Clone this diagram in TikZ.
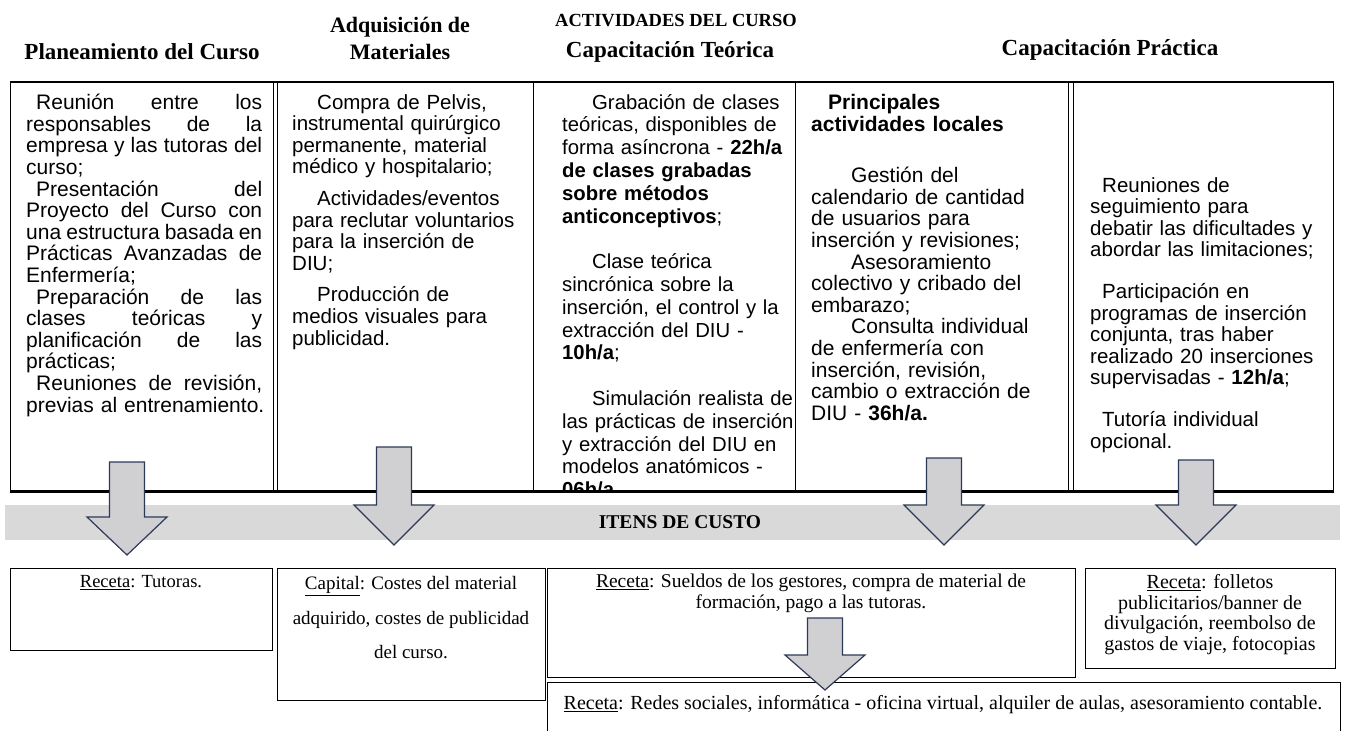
\documentclass[tikz,border=0pt]{standalone}
\usepackage{fontspec}
\setmainfont{Liberation Serif}
\newfontfamily\arialf{Liberation Sans}
\definecolor{bandgray}{RGB}{217,217,217}
\definecolor{arrowfill}{RGB}{208,207,210}
\definecolor{arrowline}{RGB}{44,58,88}
\newcommand\jl[1]{\makebox[236pt][s]{#1}}
\newcommand\dnarrow[5]{%
  \draw[blockarrow] ({#2-17.5},#3) -- ({#2+17.5},#3) -- ({#2+17.5},#4) -- ({#2+40},#4)
    -- (#2,#5) coordinate (#1) -- ({#2-40},#4) -- ({#2-17.5},#4) -- cycle;}
\begin{document}
\begin{tikzpicture}[x=1pt,y=-1pt,
  topbox/.style={draw=black, line width=1.3pt, anchor=north west, inner sep=0pt},
  costbox/.style={draw=black, line width=1.3pt, anchor=north west, inner sep=0pt},
  hdr/.style={font=\bfseries\fontsize{23}{27}\selectfont, align=center, inner sep=0pt},
  boxtext/.style={anchor=north west, inner sep=0pt, align=left, text width=270pt, font=\arialf\fontsize{20.5}{21.6}\selectfont},
  costtxt/.style={font=\fontsize{19}{21}\selectfont, align=center, inner sep=0pt},
  blockarrow/.style={fill=arrowfill, draw=arrowline, line width=1.2pt, line join=miter},
  band/.style={fill=bandgray, draw=none, anchor=north west, inner sep=0pt}]
\useasboundingbox (0,0) rectangle (1353,731);
\clip (0,0) rectangle (1353,731);

% headers
\node[hdr] (h1) at (142,52) {Planeamiento del Curso};
\node[hdr, font=\bfseries\fontsize{22}{27}\selectfont] (h2) at (400,38) {Adquisición de\\Materiales};
\node[hdr, font=\bfseries\fontsize{18.5}{22}\selectfont] (h3a) at (676,21) {ACTIVIDADES DEL CURSO};
\node[hdr] (h3b) at (670,52) {Capacitación Teórica};
\node[hdr] (h4) at (1110,50) {Capacitación Práctica};

% top boxes
\node[topbox, minimum width=263pt, minimum height=408pt] (box1) at (10,82) {};
\node[topbox, minimum width=256pt, minimum height=408pt] (box2) at (277,82) {};
\node[topbox, minimum width=262pt, minimum height=408pt] (box3) at (533,82) {};
\node[topbox, minimum width=273pt, minimum height=408pt] (box4) at (795,82) {};
\node[topbox, minimum width=260pt, minimum height=408pt] (box5) at (1073,82) {};
\draw[line width=2.4pt] (box1.north west) -- (box5.north east);
\draw[line width=2.4pt] (box1.south west) -- (box5.south east);

\node[boxtext, font=\arialf\fontsize{21}{21.6}\selectfont] (t1) at (26,94) {%
\jl{\hspace*{10pt}Reunión\hfill entre\hfill los}\\
\jl{responsables\hfill de\hfill la}\\
\jl{empresa\hfill y\hfill las\hfill tutoras\hfill del}\\
curso;\\
\jl{\hspace*{10pt}Presentación\hfill del}\\
\jl{Proyecto\hfill del\hfill Curso\hfill con}\\
\jl{una\hfill estructura\hfill basada\hfill en}\\
\jl{Prácticas\hfill Avanzadas\hfill de}\\
Enfermería;\\
\jl{\hspace*{10pt}Preparación\hfill de\hfill las}\\
\jl{clases\hfill teóricas\hfill y}\\
\jl{planificación\hfill de\hfill las}\\
prácticas;\\
\jl{\hspace*{10pt}Reuniones\hfill de\hfill revisión,}\\
previas al entrenamiento.};

\node[boxtext] (t2) at (292,94) {%
\hspace*{25pt}Compra de Pelvis,\\
instrumental quirúrgico\\
permanente, material\\
médico y hospitalario;\\[10pt]
\hspace*{25pt}Actividades/eventos\\
para reclutar voluntarios\\
para la inserción de\\
DIU;\\[10pt]
\hspace*{25pt}Producción de\\
medios visuales para\\
publicidad.};

\begin{scope}
\clip (box3.north west) rectangle (box3.south east);
\node[boxtext, font=\arialf\fontsize{20.3}{22.8}\selectfont] (t3) at (562,94) {%
\hspace*{30pt}Grabación de clases\\
teóricas, disponibles de\\
forma asíncrona - \textbf{22h/a}\\
\textbf{de clases grabadas}\\
\textbf{sobre métodos}\\
\textbf{anticonceptivos};\\[22.8pt]
\hspace*{30pt}Clase teórica\\
sincrónica sobre la\\
inserción, el control y la\\
extracción del DIU -\\
\textbf{10h/a};\\[22.8pt]
\hspace*{30pt}Simulación realista de\\
las prácticas de inserción\\
y extracción del DIU en\\
modelos anatómicos -\\
\textbf{06h/a}};
\end{scope}

\node[boxtext, font=\arialf\fontsize{21}{21.6}\selectfont] (t4) at (811,94) {%
\hspace*{17pt}\textbf{Principales}\\
\textbf{actividades locales}\\[30pt]
\hspace*{40pt}Gestión del\\
calendario de cantidad\\
de usuarios para\\
inserción y revisiones;\\
\hspace*{40pt}Asesoramiento\\
colectivo y cribado del\\
embarazo;\\
\hspace*{40pt}Consulta individual\\
de enfermería con\\
inserción, revisión,\\
cambio o extracción de\\
DIU - \textbf{36h/a.}};

\node[boxtext] (t5) at (1090,177) {%
\hspace*{12pt}Reuniones de\\
seguimiento para\\
debatir las dificultades y\\
abordar las limitaciones;\\[20pt]
\hspace*{12pt}Participación en\\
programas de inserción\\
conjunta, tras haber\\
realizado 20 inserciones\\
supervisadas - \textbf{12h/a};\\[20pt]
\hspace*{12pt}Tutoría individual\\
opcional.};

% band
\node[band, minimum width=1335pt, minimum height=35pt] (bandn) at (5,505) {};
\node[hdr, font=\bfseries\fontsize{19.5}{22}\selectfont] (bandt) at (680,522) {ITENS DE CUSTO};

% bottom boxes
\node[costbox, minimum width=262pt, minimum height=82pt] (c1) at (10,568) {};
\node[costbox, minimum width=268pt, minimum height=132pt] (c2) at (277,568) {};
\node[costbox, minimum width=528pt, minimum height=109pt] (c3) at (547,568) {};
\node[costbox, minimum width=250pt, minimum height=100pt] (c4) at (1085,568) {};
\node[costbox, minimum width=793pt, minimum height=90pt] (c5) at (547,682) {};

\node[costtxt, font=\fontsize{18.5}{21}\selectfont] (ct1) at (141,583) {\underline{Receta}: Tutoras.};
\node[costtxt, font=\fontsize{19}{34.5}\selectfont] (ct2) at (411,618) {\underline{Capital}: Costes del material\\adquirido, costes de publicidad\\del curso.};
\node[costtxt, font=\fontsize{19.5}{21}\selectfont] (ct3) at (811,593) {\underline{Receta}: Sueldos de los gestores, compra de material de\\formación, pago a las tutoras.};
\node[costtxt, font=\fontsize{20}{20.5}\selectfont] (ct4) at (1210,614.5) {\underline{Receta}: folletos\\publicitarios/banner de\\divulgación, reembolso de\\gastos de viaje, fotocopias};
\node[costtxt, font=\fontsize{20}{21}\selectfont] (ct5) at (943,705) {\underline{Receta}: Redes sociales, informática - oficina virtual, alquiler de aulas, asesoramiento contable.};

% block arrows
\dnarrow{a1}{127}{462}{517}{555}
\dnarrow{a2}{394}{447}{505}{545}
\dnarrow{a3}{944}{458}{505}{545}
\dnarrow{a4}{1196}{460}{505}{545}
\dnarrow{a5}{825}{618}{655}{690}
\end{tikzpicture}
\end{document}
